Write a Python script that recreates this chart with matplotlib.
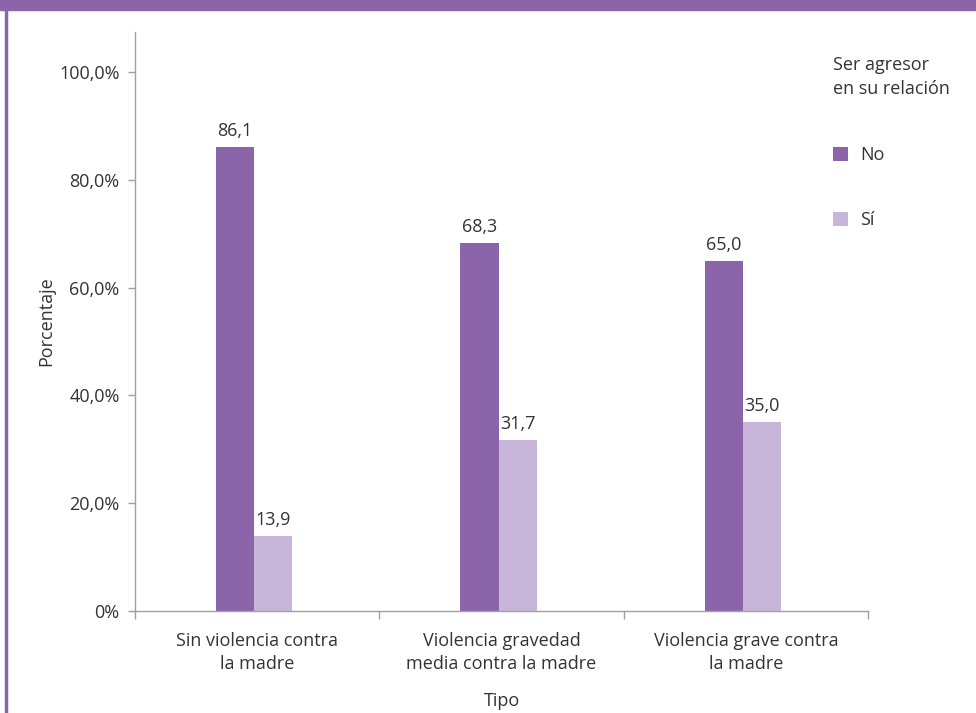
import numpy as np
from matplotlib import pyplot as plt
from matplotlib.patches import Rectangle
from matplotlib.lines import Line2D

categories = ['Sin violencia contra\nla madre',
              'Violencia gravedad\nmedia contra la madre',
              'Violencia grave contra\nla madre']
no_vals = [86.1, 68.3, 65.0]
si_vals = [13.9, 31.7, 35.0]
series_names = ['No', 'Sí']
yticks = [0, 20, 40, 60, 80, 100]
ytick_labels = ['0%', '20,0%', '40,0%', '60,0%', '80,0%', '100,0%']

PURPLE = '#8c64aa'
LILAC = '#c7b6da'
TEXT = '#333333'
GREY = '#a0a0a0'
FS = 13

plt.rcParams['font.family'] = ['Open Sans', 'DejaVu Sans']

fig = plt.figure(figsize=(9.76, 7.13), dpi=100)
ax = fig.add_axes([135 / 976, 1 - 611 / 713, 733 / 976, 579 / 713])

x = np.arange(len(categories))
w = 0.156
b1 = ax.bar(x - w / 2 - 0.012, no_vals, w, color=PURPLE, label=series_names[0])
b2 = ax.bar(x + w / 2 - 0.012, si_vals, w, color=LILAC, label=series_names[1])

for bars, vals in ((b1, no_vals), (b2, si_vals)):
    for rect, v in zip(bars, vals):
        ax.annotate(f'{v:.1f}'.replace('.', ','),
                    (rect.get_x() + rect.get_width() / 2, v),
                    xytext=(0, 5), textcoords='offset points',
                    ha='center', va='bottom', fontsize=FS, color=TEXT)

ax.set_xlim(-0.5, 2.5)
ax.set_ylim(0, 107.4)
ax.set_yticks(yticks)
ax.set_yticklabels(ytick_labels)
ax.set_xticks(x)
ax.set_xticklabels(categories, linespacing=1.35)
ax.set_xticks([-0.5, 0.5, 1.5, 2.5], minor=True)
ax.tick_params(axis='x', which='major', length=0, pad=15, labelsize=FS, labelcolor=TEXT)
ax.tick_params(axis='x', which='minor', length=6, color=GREY, width=1)
ax.tick_params(axis='y', length=5, color=GREY, width=1, pad=6, labelsize=FS, labelcolor=TEXT)

for s in ('top', 'right'):
    ax.spines[s].set_visible(False)
for s in ('left', 'bottom'):
    ax.spines[s].set_color(GREY)
    ax.spines[s].set_linewidth(1)

ax.set_ylabel('Porcentaje', fontsize=FS, color=TEXT, labelpad=3)
ax.set_xlabel('Tipo', fontsize=FS, color=TEXT, labelpad=14)

# legend drawn by hand to get the wide spacing
fig.text(833 / 976, 1 - 77 / 713, 'Ser agresor\nen su relación', fontsize=FS,
         color=TEXT, va='center', ha='left', linespacing=1.4)
fig.legend(handles=[b1, b2], labels=series_names, loc='upper left',
           bbox_to_anchor=(817 / 976, 1 - 130 / 713), frameon=False,
           fontsize=FS, labelcolor=TEXT, handlelength=0.8, handleheight=0.8,
           labelspacing=2.6, handletextpad=0.7)

# purple frame decoration
fig.patches.append(Rectangle((0, 1 - 10 / 713), 1, 10 / 713, transform=fig.transFigure,
                             color=PURPLE, zorder=0))
fig.lines.append(Line2D([6 / 976, 6 / 976], [0, 1], transform=fig.transFigure,
                        color=PURPLE, linewidth=2.5))

plt.savefig('out.png', dpi=100)
